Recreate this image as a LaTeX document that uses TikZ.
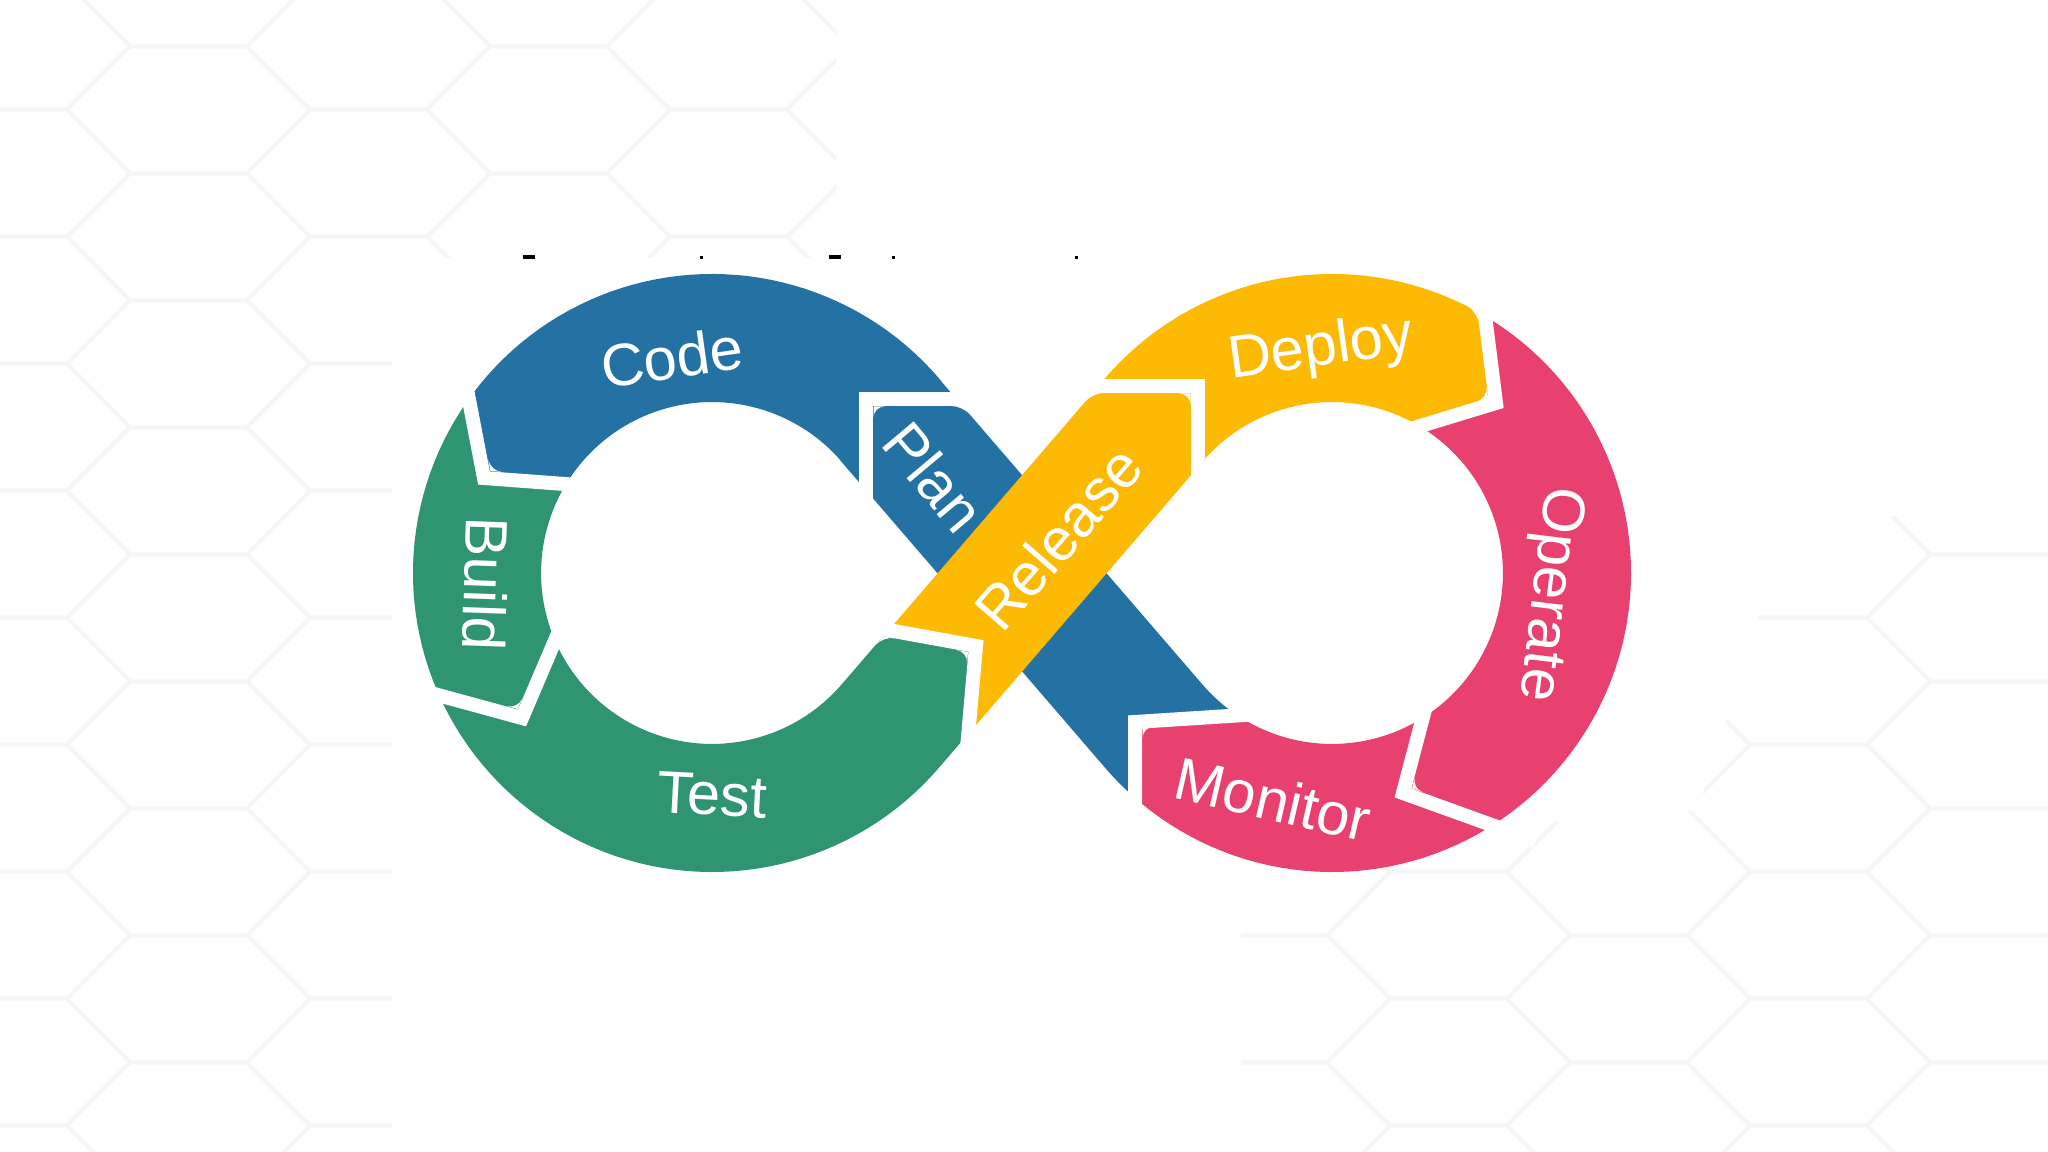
\documentclass[tikz,border=0pt]{standalone}
\usepackage{fontspec}
\setmainfont{Liberation Sans}
\definecolor{dvblue}{RGB}{36,114,164}
\definecolor{dvgreen}{RGB}{47,148,112}
\definecolor{dvyellow}{RGB}{252,186,4}
\definecolor{dvpink}{RGB}{232,64,111}
\definecolor{hexline}{RGB}{246,246,248}
\newcommand{\cornerfix}[6]{\fill[white] (#1,#2) -- ({#1+11*#3},{#2+11*#4}) .. controls ({#1+5*#3},{#2+5*#4}) and ({#1+5*#5},{#2+5*#6}) .. ({#1+11*#5},{#2+11*#6}) -- cycle;}
\begin{document}
\begin{tikzpicture}[x=0.01cm, y=-0.01cm,
  band/.style={line width=1.28cm, line cap=butt, line join=round},
  gapline/.style={white, line width=0.14cm, line join=miter, line cap=butt},
  lbl/.style={text=white, font=\fontsize{17}{20}\selectfont, inner sep=0pt},
  hexstyle/.style={draw=hexline, line width=1pt}]
\useasboundingbox (0,0) rectangle (2048,1152);
\fill[white] (0,0) rectangle (2048,1152);

% faint hexagon background
\begin{scope}
  \clip (0,0) rectangle (392,1152) (0,0) rectangle (836,258)
        (1241,1152) -- (1241,849) -- (1698,810) -- (1776,562) -- (2048,457) -- (2048,1152) -- cycle;
  \foreach \k in {0,...,11} {
    \foreach \j in {-1,...,9} {
      \pgfmathsetmacro\cx{8.5+180*\k}
      \pgfmathsetmacro\cy{46+127*\j+64*mod(\k,2)}
      \draw[hexstyle] (\cx-58.5,\cy-63.5) -- (\cx+58.5,\cy-63.5) -- (\cx+121.5,\cy)
        -- (\cx+58.5,\cy+63.5) -- (\cx-58.5,\cy+63.5) -- (\cx-121.5,\cy) -- cycle;
    }
  }
\end{scope}

% blue piece: Plan + Code
\begin{scope}
  \clip (0,353) -- (460,353) -- (484,478) -- (605,487) -- (937,573) -- (1022,700) -- (1022,1152) -- (2048,1152) -- (2048,0) -- (0,0) -- cycle;
  \clip (1135,1152) -- (1135,722) -- (1276,713) -- (1332,573) -- (1332,0) -- (0,0) -- (0,1152) -- cycle;
  \draw[band, dvblue] plot[domain=120:139.3, samples=20] ({1332+235*cos(\x)},{573+235*sin(\x)})
     -- (890,420) -- plot[domain=-40.7:-172, samples=60] ({712+235*cos(\x)},{573+235*sin(\x)});
\end{scope}

% green piece: Build + Test
\begin{scope}
  \clip (0,353) -- (460,353) -- (484,478) -- (605,487) -- (937,573) -- (1022,700) -- (1022,1152) -- (0,1152) -- cycle;
  \clip (844,622) -- (976,646) -- (964,782) -- (964,1152) -- (0,1152) -- (0,0) -- (844,0) -- cycle;
  \draw[band, dvgreen] plot[domain=-140:-319.3, samples=80] ({712+235*cos(\x)},{573+235*sin(\x)}) -- (983,618.5);
\end{scope}

% pink piece: Operate + Monitor
\begin{scope}
  \clip (1478,0) -- (1478,260) -- (1496,403) -- (1394,434) -- (1290,500) -- (1200,650) -- (1022,700) -- (1022,1152) -- (2048,1152) -- (2048,0) -- cycle;
  \clip (1135,1152) -- (1135,722) -- (1276,713) -- (1332,573) -- (1332,0) -- (2048,0) -- (2048,1152) -- cycle;
  \draw[band, dvpink] plot[domain=293:499.3, samples=90] ({1332+235*cos(\x)},{573+235*sin(\x)}) -- (1129.6,698);
\end{scope}

% yellow piece: Release + Deploy
\begin{scope}
  \clip (844,622) -- (976,646) -- (964,782) -- (964,1152) -- (2048,1152) -- (2048,0) -- (844,0) -- cycle;
  \clip (1478,0) -- (1478,260) -- (1496,403) -- (1394,434) -- (1290,500) -- (1200,650) -- (1022,700) -- (1022,1152) -- (0,1152) -- (0,0) -- cycle;
  \draw[band, dvyellow] (908,706) -- (1154,420) -- plot[domain=220.7:322, samples=50] ({1332+235*cos(\x)},{573+235*sin(\x)});
\end{scope}

% white gaps between the segments
\draw[gapline] (1000,399) -- (866,399) -- (866,545);
\draw[gapline] (460,353) -- (484,478) -- (605,487);
\draw[gapline] (394,683) -- (522,718) -- (568,610);
\draw[gapline] (844,622) -- (976,646) -- (964,782);
\draw[gapline] (1060,386) -- (1198,386) -- (1198,505);
\draw[gapline] (1478,260) -- (1496,403) -- (1394,434);
\draw[gapline] (1536,841) -- (1403,793) -- (1433,679);
\draw[gapline] (1276,713) -- (1135,722) -- (1135,842);

% rounded arrow tips
\cornerfix{873.5}{406.5}{1}{0}{0}{1}
\cornerfix{490.5}{471}{-0.189}{-0.982}{0.997}{0.074}
\cornerfix{517.7}{709.1}{-0.965}{-0.264}{0.392}{-0.920}
\cornerfix{968}{652}{-0.984}{-0.179}{-0.088}{0.996}
\cornerfix{1190.5}{393.5}{-1}{0}{0}{1}
\cornerfix{1488}{398}{-0.125}{-0.992}{-0.955}{0.295}
\cornerfix{1412}{788.3}{0.941}{0.338}{0.254}{-0.967}
\cornerfix{1142.5}{727.1}{0.998}{-0.064}{0}{1}
% rounded outer corners of the segment ends
\cornerfix{1477.3}{311.7}{0.125}{0.992}{-0.866}{-0.5}
\cornerfix{1092.5}{393}{1}{0}{-0.652}{0.758}
\cornerfix{962.7}{406}{-1}{0}{0.652}{0.758}
\cornerfix{883.2}{636.3}{0.984}{0.179}{-0.652}{0.758}

% small cut-off marks above the picture
\fill[black] (523,255) rectangle (535,259);
\fill[black] (700,256) rectangle (703,259);
\fill[black] (829,255) rectangle (841,259);
\fill[black] (892,256) rectangle (895,259);
\fill[black] (1075,256) rectangle (1078,259);

% labels (positive y axis so that text is never mirrored)
\begin{scope}[y=0.01cm]
\node[lbl, rotate=8] (code) at (672,-357) {Code};
\node[lbl, rotate=-92] (build) at (486,-584) {Build};
\node[lbl, rotate=-3] (test) at (712,-795) {Test};
\node[lbl, rotate=-50] (plan) at (934,-477) {Plan};
\node[lbl, rotate=49] (release) at (1058,-538) {Release};
\node[lbl, rotate=8] (deploy) at (1321,-350) {Deploy};
\node[lbl, rotate=-97] (operate) at (1548,-594) {Operate};
\node[lbl, rotate=-13] (monitor) at (1273,-799) {Monitor};
\end{scope}
\end{tikzpicture}
\end{document}
